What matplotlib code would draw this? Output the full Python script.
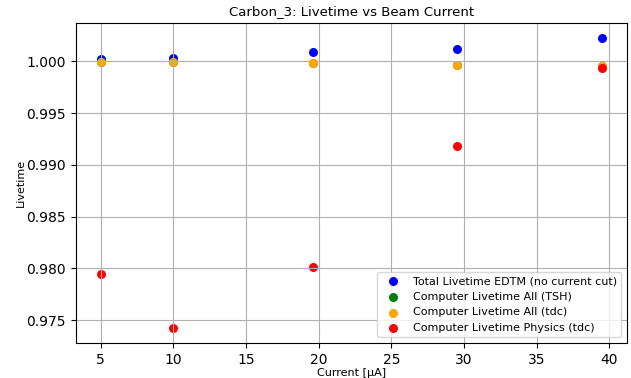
import numpy as np
import matplotlib
matplotlib.use("Agg")
import matplotlib.pyplot as plt

# beam current [uA]
current = [5.0, 10.0, 19.6, 29.5, 39.5]

# livetimes
lt_edtm = [1.0002, 1.0003, 1.0009, 1.0012, 1.0023]
lt_tsh = [0.9999, 0.9999, 0.9998, 0.9997, 0.9996]
lt_tdc_all = [0.9999, 0.9999, 0.9998, 0.9997, 0.9996]
lt_tdc_phys = [0.9795, 0.9742, 0.9801, 0.9918, 0.9994]

fig, ax = plt.subplots(figsize=(6.31, 3.78), dpi=100)
fig.subplots_adjust(left=0.12, right=0.9937, top=0.939, bottom=0.0926)

ax.scatter(current, lt_edtm, color="blue", s=30, label="Total Livetime EDTM (no current cut)")
ax.scatter(current, lt_tsh, color="green", s=30, label="Computer Livetime All (TSH)")
ax.scatter(current, lt_tdc_all, color="orange", s=30, label="Computer Livetime All (tdc)")
ax.scatter(current, lt_tdc_phys, color="red", s=30, label="Computer Livetime Physics (tdc)")

ax.set_title("Carbon_3: Livetime vs Beam Current", fontsize=9.5)
ax.set_xlabel("Current [μA]", fontsize=8)
ax.set_ylabel("Livetime", fontsize=8)
ax.xaxis.set_label_coords(0.5, -0.078)
ax.yaxis.set_label_coords(-0.09, 0.5)
ax.grid(True)
ax.legend(loc="lower right", fontsize=8)

fig.savefig("out.png", dpi=100)
